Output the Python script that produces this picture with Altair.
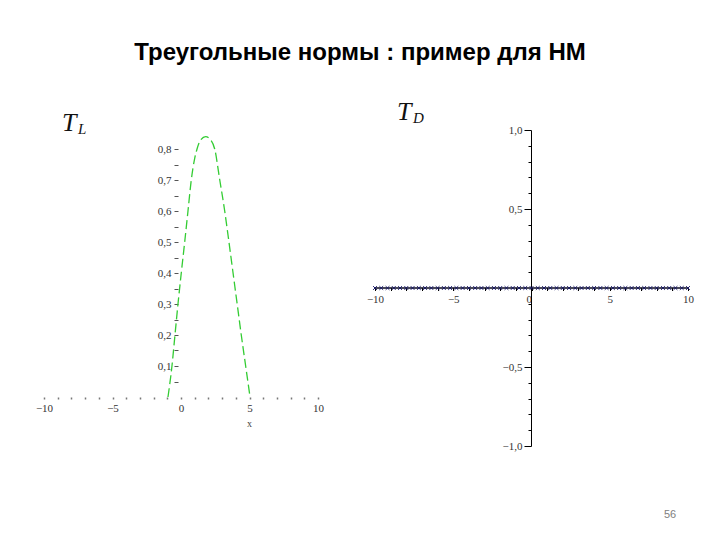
import altair as alt
import pandas as pd

title_text = "Треугольные нормы : пример для НМ"
page_number = "56"

# Left panel (T_L): green dashed curve
tl_x = [-0.95, -0.66, -0.44, -0.22, 0.02, 0.27, 0.51, 0.75, 1.0, 1.17, 1.45, 1.8,
        2.15, 2.46, 2.83, 3.19, 3.5, 3.8, 4.1, 4.4, 4.72, 5.04]
tl_y = [0.0, 0.1, 0.2, 0.3, 0.4, 0.5, 0.6, 0.7, 0.77, 0.8, 0.83, 0.84,
        0.83, 0.8, 0.7, 0.6, 0.5, 0.4, 0.3, 0.2, 0.1, 0.0]
tl_xticks = [-10, -9, -8, -7, -6, -5, -4, -3, -2, -1, 0, 1, 2, 3, 4, 5, 6, 7, 8, 9, 10]
tl_yticks = [0.05, 0.1, 0.15, 0.2, 0.25, 0.3, 0.35, 0.4, 0.45, 0.5, 0.55, 0.6,
             0.65, 0.7, 0.75, 0.8]

# Right panel (T_D): identically zero, sampled points
td_x = [-10.0, -9.6, -9.2, -8.8, -8.4, -8.0, -7.6, -7.2, -6.8, -6.4, -6.0, -5.6,
        -5.2, -4.8, -4.4, -4.0, -3.6, -3.2, -2.8, -2.4, -2.0, -1.6, -1.2, -0.8,
        -0.4, 0.0, 0.4, 0.8, 1.2, 1.6, 2.0, 2.4, 2.8, 3.2, 3.6, 4.0, 4.4, 4.8,
        5.2, 5.6, 6.0, 6.4, 6.8, 7.2, 7.6, 8.0, 8.4, 8.8, 9.2, 9.6, 10.0]
td_y = [0.0] * len(td_x)
td_xticks = tl_xticks
td_yticks = [-1.0, -0.9, -0.8, -0.7, -0.6, -0.5, -0.4, -0.3, -0.2, -0.1,
             0.1, 0.2, 0.3, 0.4, 0.5, 0.6, 0.7, 0.8, 0.9, 1.0]

AX_FONT = "Liberation Serif"

left_df = pd.DataFrame({"x": tl_x, "y": tl_y})
left = alt.Chart(left_df).mark_line(
    color="#33cc33", strokeDash=[9, 4], strokeWidth=1.3, interpolate="monotone"
).encode(
    x=alt.X("x:Q",
            scale=alt.Scale(domain=[-10, 10], range=[36, 310], nice=False, zero=False),
            axis=alt.Axis(orient="bottom", offset=-135, domain=False, grid=False,
                          values=tl_xticks, tickSize=2, tickWidth=1.5, tickColor="#777777",
                          labelExpr="datum.value % 5 == 0 ? datum.label : ''",
                          labelFont=AX_FONT, labelFontSize=11, labelColor="#333333",
                          labelPadding=3, labelOverlap=False, labelFlush=False,
                          title="x", titleX=241, titleY=26, titleFont=AX_FONT,
                          titleFontSize=10, titleFontWeight="normal", titleColor="#444444",
                          titleBaseline="middle", titleAlign="center")),
    y=alt.Y("y:Q",
            scale=alt.Scale(domain=[0, 0.85], range=[389, 125.5], nice=False, zero=False),
            axis=alt.Axis(orient="left", offset=-170, domain=False, grid=False,
                          values=tl_yticks, tickSize=4, tickColor="#555555",
                          labelExpr="round(datum.value * 100) % 10 == 0 ? replace(format(datum.value, '.1f'), '.', ',') : ''",
                          labelFont=AX_FONT, labelFontSize=11, labelColor="#333333",
                          labelPadding=3, labelOverlap=False, labelFlush=False, title=None)),
)

right_df = pd.DataFrame({"xd": td_x, "yd": td_y})
right = alt.Chart(right_df).mark_line(
    color="#111133", strokeWidth=1,
    point=alt.OverlayMarkDef(shape="M-1,-1L1,1M-1,1L1,-1", size=14, filled=False,
                             color="#1a1a66", strokeWidth=1)
).encode(
    x=alt.X("xd:Q",
            scale=alt.Scale(domain=[-10, 10], range=[367, 680], nice=False, zero=False),
            axis=alt.Axis(orient="bottom", offset=-244.5, domain=True, domainColor="#000000",
                          grid=False, values=td_xticks, tickSize=3, tickColor="#000000",
                          labelExpr="datum.value % 5 == 0 ? datum.label : ''",
                          labelAlign={"condition": {"test": "datum.value == 0", "value": "right"},
                                      "value": "center"},
                          labelFont=AX_FONT, labelFontSize=11, labelColor="#333333",
                          labelPadding=3, labelOverlap=False, labelFlush=False, title=None)),
    y=alt.Y("yd:Q",
            scale=alt.Scale(domain=[-1, 1], range=[438, 122], nice=False, zero=False),
            axis=alt.Axis(orient="left", offset=-523, domain=True, domainColor="#000000",
                          grid=False, values=td_yticks, tickColor="#000000",
                          tickSize={"condition": {"test": "abs(datum.value) == 0.5 || abs(datum.value) == 1",
                                                  "value": 7}, "value": 3},
                          labelExpr="abs(datum.value) == 0.5 || abs(datum.value) == 1 ? replace(format(datum.value, '.1f'), '.', ',') : ''",
                          labelFont=AX_FONT, labelFontSize=11, labelColor="#333333",
                          labelPadding=2, labelOverlap=False, labelFlush=False, title=None)),
)


def label(text, x, y, size, font="Liberation Serif", style="italic", weight="normal",
          color="#111111", align="left"):
    return alt.Chart(pd.DataFrame({"t": [text]})).mark_text(
        font=font, fontSize=size, fontStyle=style, fontWeight=weight, color=color,
        align=align, baseline="alphabetic"
    ).encode(text="t:N", x=alt.value(x), y=alt.value(y))


title_mark = label(title_text, 352, 52, 24, font="Liberation Sans", style="normal",
                   weight="bold", color="#000000", align="center")
tl_T = label("T", 54, 123, 26)
tl_L = label("L", 70, 126, 15)
td_T = label("T", 389, 112, 26)
td_D = label("D", 405, 115, 15)
page_mark = label(page_number, 662, 510, 11, font="Liberation Sans", style="normal",
                  color="#808080", align="center")

chart = alt.layer(
    left, right, title_mark, tl_T, tl_L, td_T, td_D, page_mark
).resolve_scale(
    x="independent", y="independent"
).properties(
    width=704, height=524, autosize=alt.AutoSizeParams(type="none"), padding=0
).configure_view(stroke=None)

chart.save("out.html", embed_options={"renderer": "svg", "actions": False})
